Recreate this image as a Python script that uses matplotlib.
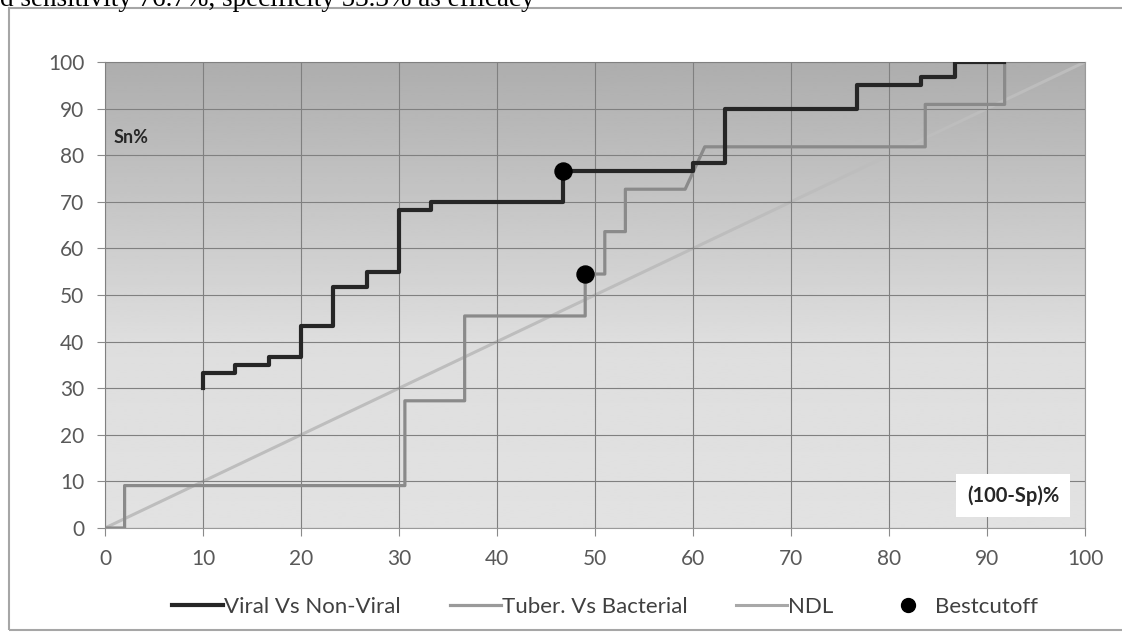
import matplotlib.pyplot as plt
from matplotlib.patches import Rectangle
from matplotlib.lines import Line2D
import numpy as np

plt.rcParams['font.family'] = ['Lato', 'DejaVu Sans']

# ROC step curves, values in %
viral_x = [10, 10, 13.3, 13.3, 16.7, 16.7, 20, 20, 23.3, 23.3, 26.7, 26.7, 30, 30,
           33.3, 33.3, 46.7, 46.7, 60, 60, 63.3, 63.3, 76.7, 76.7, 83.3, 83.3, 86.7, 86.7, 91.7]
viral_y = [30, 33.3, 33.3, 35, 35, 36.7, 36.7, 43.3, 43.3, 51.7, 51.7, 55, 55, 68.3,
           68.3, 70, 70, 76.7, 76.7, 78.3, 78.3, 90, 90, 95, 95, 96.7, 96.7, 100, 100]

tuber_x = [0, 2, 2, 30.6, 30.6, 36.7, 36.7, 49, 49, 51, 51, 53.1, 53.1, 59.2, 61.2,
           83.7, 83.7, 91.8, 91.8]
tuber_y = [0, 0, 9.1, 9.1, 27.3, 27.3, 45.5, 45.5, 54.5, 54.5, 63.6, 63.6, 72.7, 72.7,
           81.8, 81.8, 90.9, 90.9, 100]

ndl_x = [0, 100]
ndl_y = [0, 100]

cut_x = [46.7, 49]
cut_y = [76.7, 54.5]

ticks = list(range(0, 101, 10))

fig = plt.figure(figsize=(11.22, 6.34), dpi=100)
fig.set_facecolor('white')
ax = fig.add_axes([105 / 1122, 1 - 528 / 634, 980 / 1122, 466 / 634])

# gradient background: darker at top
yy = np.linspace(0, 100, 200)
shade = np.interp(yy, [0, 40, 100], [0.885, 0.87, 0.68])
ax.imshow(shade[:, None], extent=[0, 100, 0, 100], origin='lower', aspect='auto',
          cmap='gray', vmin=0, vmax=1, zorder=0, interpolation='bilinear')

ax.set_xlim(0, 100)
ax.set_ylim(0, 100)
ax.set_xticks(ticks)
ax.set_yticks(ticks)
ax.grid(True, color='#808080', linewidth=0.8, zorder=1)
ax.set_axisbelow(False)
for s in ax.spines.values():
    s.set_color('#9a9a9a')
    s.set_linewidth(0.8)
ax.tick_params(colors='#8a8a8a', labelcolor='#595959', labelsize=15, length=6, width=0.8)
ax.tick_params(axis='x', pad=9)
ax.tick_params(axis='y', pad=9)

ax.plot(ndl_x, ndl_y, color='#bdbdbd', lw=2.2, zorder=2)
ax.plot(tuber_x, tuber_y, color='#8a8a8a', lw=2.3, zorder=3)
ax.plot(viral_x, viral_y, color='#262626', lw=3.0, zorder=4)
ax.scatter(cut_x, cut_y, s=150, color='black', zorder=5)

ax.text(0.027, 0.839, 'Sn%', transform=ax.transAxes, fontsize=13, fontweight='bold',
        color='#262626', ha='center', va='center')
ax.text(92.65, 6.9, '(100-Sp)%', fontsize=14.5, fontweight='bold', color='#262626',
        ha='center', va='center', zorder=6,
        bbox=dict(facecolor='white', edgecolor='none', pad=8))

handles = [Line2D([], [], color='#262626', lw=3.0),
           Line2D([], [], color='#9a9a9a', lw=2.3),
           Line2D([], [], color='#a8a8a8', lw=2.2),
           Line2D([], [], color='black', marker='o', ls='none', markersize=10)]
labels = ['Viral Vs Non-Viral', 'Tuber. Vs Bacterial', 'NDL', 'Bestcutoff']
fig.legend(handles, labels, loc='center', bbox_to_anchor=(0.539, 1 - 607 / 634), ncol=4,
           frameon=False, fontsize=16, labelcolor='#404040', handlelength=2.3,
           handletextpad=0.05, columnspacing=2.2)

# outer chart frame
fig.patches.append(Rectangle((9 / 1122, 4 / 634), 1.2, 1 - 12 / 634, transform=fig.transFigure,
                             fill=False, edgecolor='#a6a6a6', linewidth=1.5))

# caption cropped at the top edge, as in the source
fig.text(0.0, 1 - 6 / 634, 'd sensitivity 76.7%, specificity 53.3% as efficacy',
         family='Liberation Serif', fontsize=19.5, va='baseline', ha='left', color='black')

fig.savefig('out.png', dpi=100)
